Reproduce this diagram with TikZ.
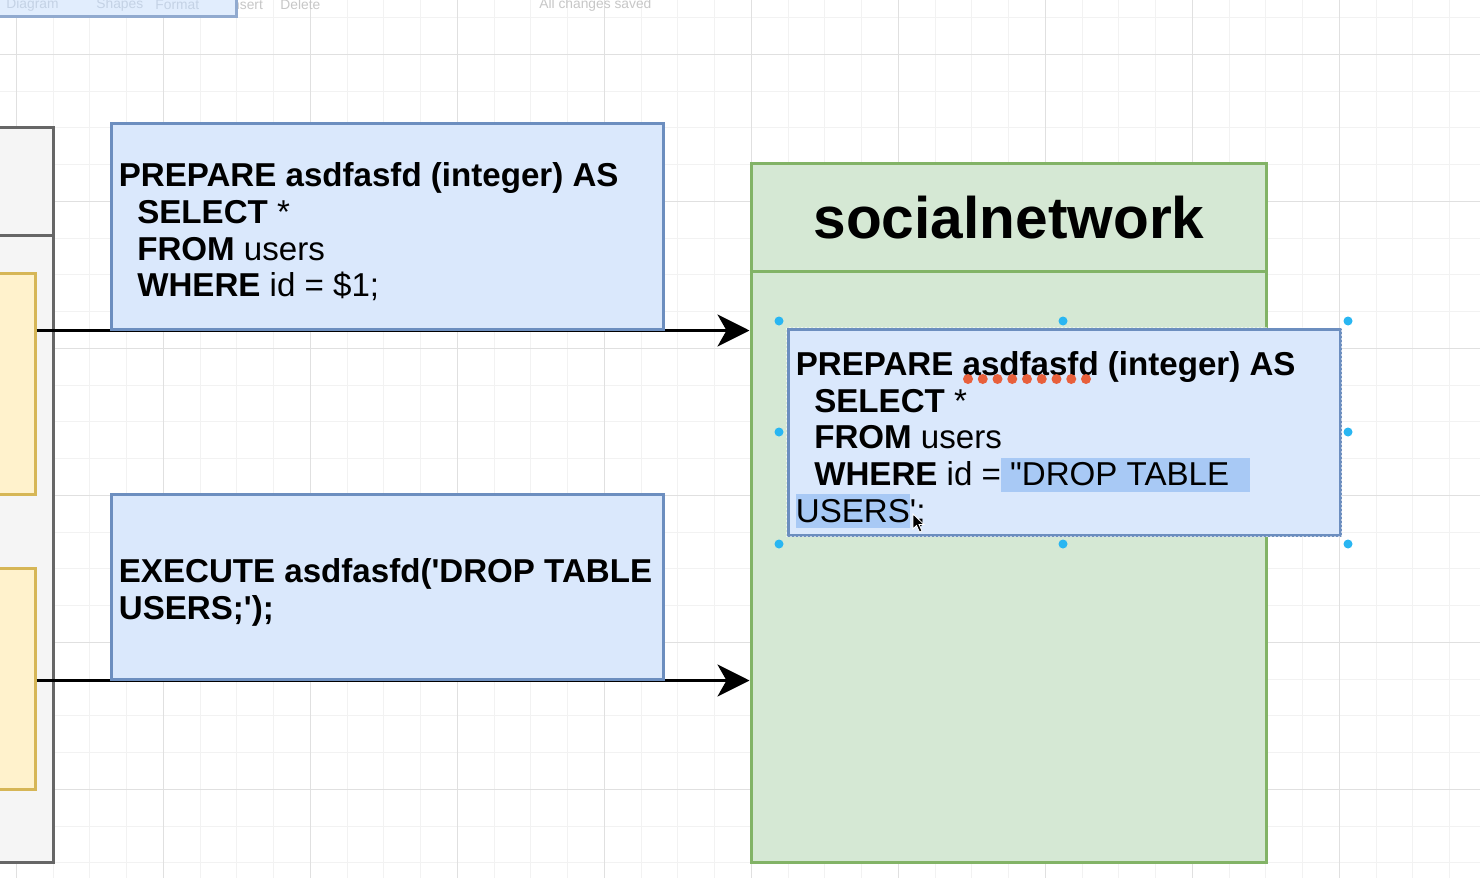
\documentclass[tikz,border=0pt]{standalone}
\usepackage{fontspec}
\setmainfont{Liberation Sans}
\usepackage{tikz}
\usetikzlibrary{arrows.meta}
\usetikzlibrary{positioning}
\definecolor{sqlfill}{HTML}{DAE8FC}
\definecolor{sqlline}{HTML}{6C8EBF}
\definecolor{dbfill}{HTML}{D5E8D4}
\definecolor{dbline}{HTML}{82B366}
\definecolor{reqfill}{HTML}{FFF2CC}
\definecolor{reqline}{HTML}{D6B656}
\definecolor{srvfill}{HTML}{F5F5F5}
\definecolor{srvline}{HTML}{666666}
\definecolor{handleblue}{HTML}{29B6F2}
\definecolor{marked}{HTML}{A8C9F5}
\definecolor{typo}{HTML}{E8603C}
\newcommand{\sqlind}{\hspace*{9.2pt}}
\newcommand{\marktext}[1]{{\setlength{\fboxsep}{0pt}\colorbox{marked}{\rule[-3pt]{0pt}{17pt}#1}}}
\tikzstyle{gridminor} = [color=black!5, line width=0.5pt]
\tikzstyle{gridmajor} = [color=black!12, line width=0.5pt]
\tikzstyle{sqlbox} = [rectangle, draw=sqlline, fill=sqlfill, line width=1.5pt, minimum width=276pt]
\tikzstyle{sqltext} = [font=\fontsize{16.55pt}{18.35pt}\selectfont, align=left, inner sep=0pt]
\tikzstyle{conn} = [line width=1.5pt, -{Stealth[length=16pt,width=16pt,inset=4.5pt]}]
\tikzstyle{handle} = [circle, fill=handleblue, inner sep=0pt, minimum size=4.5pt]
\tikzstyle{selected} = [white, opacity=0.6, line width=0.6pt, dash pattern=on 1pt off 1pt]
\tikzstyle{uitext} = [font=\fontsize{6.9pt}{8pt}\selectfont, color=black!22, anchor=west, inner sep=0pt]
\pgfdeclarelayer{back}
\pgfsetlayers{back,main}

\begin{document}
\begin{tikzpicture}[x=0.5pt, y=-0.5pt]
    \useasboundingbox (0,0) rectangle (1480,878);

    \begin{pgfonlayer}{back}
    % canvas grid
    \fill[white] (0,0) rectangle (1480,878);
    \foreach \i in {0,...,41}
        \draw[gridminor] ({-20.45+36.75*\i},0) -- ++(0,878);
    \foreach \j in {0,...,25}
        \draw[gridminor] (0,{-19.2+36.75*\j}) -- ++(1480,0);
    \foreach \i in {0,...,10}
        \draw[gridmajor] ({16.3+147*\i},0) -- ++(0,878);
    \foreach \j in {0,...,5}
        \draw[gridmajor] (0,{54.3+147*\j}) -- ++(1480,0);

    % left side
    \node[rectangle, draw=srvline, fill=srvfill, line width=1.5pt,
          minimum width=76.5pt, minimum height=367.5pt] (server) at (-23.5,494.5) {};
    \draw[srvline, line width=1.5pt] ([yshift=-55pt]server.north west) -- ([yshift=-55pt]server.north east);
    \node[rectangle, draw=reqline, fill=reqfill, line width=1.5pt,
          minimum width=67.5pt, minimum height=110.5pt] (reqtop) at (-32.5,383.5) {};
    \node[rectangle, draw=reqline, fill=reqfill, line width=1.5pt,
          minimum width=67.5pt, minimum height=110.5pt] (reqbot) at (-32.5,678.5) {};
    \end{pgfonlayer}

    % faded toolbar
    \node[uitext] (tbinsert) at (228,5) {Insert};
    \node[rectangle, draw=sqlline!75!white, fill=sqlfill!80!white, line width=1.5pt,
          minimum width=123pt, minimum height=14pt] (tbbox) at (113,2) {};
    \node[uitext, color=sqlline!40!white] (tbdiagram) at (6,5) {Diagram};
    \node[uitext, color=sqlline!40!white] (tbshapes) at (96,5) {Shapes};
    \node[uitext, color=sqlline!40!white] (tbformat) at (155,5) {Format};
    \node[uitext] (tbdelete) at (280,5) {Delete};
    \node[uitext] (tbsaved) at (539,5) {All changes saved};

    % database
    \node[rectangle, draw=dbline, fill=dbfill, line width=1.5pt,
          minimum width=257.5pt, minimum height=349.5pt] (socialnetwork) at (1008.5,512.5) {};
    \draw[dbline, line width=1.5pt] ([yshift=-55pt]socialnetwork.north west) -- ([yshift=-55pt]socialnetwork.north east);
    \node[font=\fontsize{29.3pt}{34pt}\selectfont\bfseries] (dbtitle) at (1009,218) {socialnetwork};

    % statements
    \node[sqlbox, minimum height=103pt] (prepare) at (387,226) {};
    \node[sqltext, right=4.5pt of prepare.west, yshift=-3pt] (preparesql)
        {\textbf{PREPARE asdfasfd (integer) AS}\\
         \sqlind\textbf{SELECT} *\\
         \sqlind\textbf{FROM} users\\
         \sqlind\textbf{WHERE} id = \$1;};
    \node[sqlbox, minimum height=92.5pt] (execute) at (387,586.5) {};
    \node[sqltext, right=4.5pt of execute.west, yshift=-3pt] (executesql)
        {\textbf{EXECUTE asdfasfd(\textquotesingle DROP TABLE}\\
         \textbf{USERS;\textquotesingle);}};

    \begin{pgfonlayer}{back}
    \path[conn]
    (reqtop.east |- prepare.south) edge (socialnetwork.west |- prepare.south)
    (reqbot.east |- execute.south) edge (socialnetwork.west |- execute.south)
    ;
    \end{pgfonlayer}

    % statement as it ends up
    \node[sqlbox, minimum height=103pt] (stored) at (1064,432) {};
    \draw[selected] (stored.north west) rectangle (stored.south east);
    \node[sqltext, right=4.5pt of stored.west, yshift=-4pt] (storedsql)
        {\textbf{PREPARE asdfasfd (integer) AS}\\
         \sqlind\textbf{SELECT} *\\
         \sqlind\textbf{FROM} users\\
         \sqlind\textbf{WHERE} id =\marktext{ \textquotedbl DROP TABLE \hspace*{6pt}}\\
         \marktext{USERS}\textquotesingle;};
    \foreach \k in {0,...,8}
        \fill[typo] ({968+14.75*\k},379) circle (2.5pt);
    \foreach \hx/\hy in {779/321, 1063/321, 1348/321, 779/432, 1348/432, 779/544, 1063/544, 1348/544}
        \node[handle] at (\hx,\hy) {};
    \filldraw[fill=black, draw=white, line width=0.4pt]
        (913,514) -- (913,529) -- (916.5,525.5) -- (919.5,532) -- (922,531) -- (919,524.5) -- (924,524.5) -- cycle;
\end{tikzpicture}
\end{document}
